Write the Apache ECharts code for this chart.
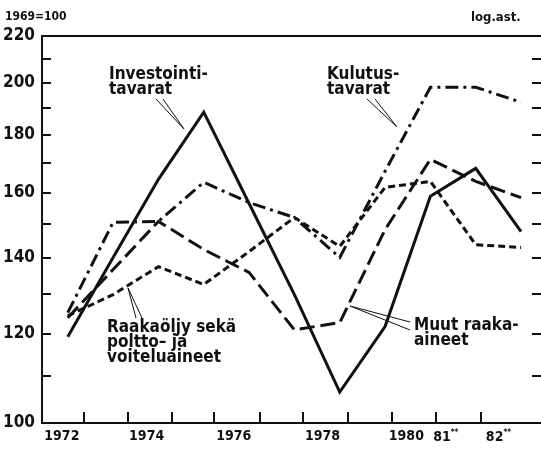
<!DOCTYPE html>
<html>
<head>
<meta charset="utf-8">
<script src="https://cdn.jsdelivr.net/npm/echarts@6/dist/echarts.min.js"></script>
<style>html,body{margin:0;padding:0;background:#fff}#chart{width:541px;height:449px}</style>
</head>
<body>
<div id="chart"></div>
<script>
// 1969=100, log scale
var years = [1972,1973,1974,1975,1976,1977,1978,1979,1980,1981,1982];
var investointi = [119.2,140.1,164.3,188.4,156.4,129.9,106.5,121.7,158.7,168.0,147.7];
var kulutus = [125.2,150.5,150.8,163.3,156.7,152.0,140.1,167.0,198.2,198.2,192.2];
var muut = [123.9,136.7,150.8,142.4,135.9,120.9,122.7,148.3,171.1,163.6,158.3];
var raakaoljy = [124.4,129.9,137.5,132.6,141.8,152.0,143.3,161.6,163.6,143.8,143.0];

var yLabelVals = [100,120,140,160,180,200,220];
var yTickVals = [100,110,120,130,140,150,160,170,180,190,200,210,220];
// tick marks sit between years, labels in the middle of the year slots
var xTickVals = [1972.35,1973.32,1974.30,1975.22,1976.23,1977.18,1978.17,1979.14,1980.11,1981.10];
var xLabelVals = [1971.87,1973.74,1975.66,1977.62,1979.47,1980.34,1981.50];
var xLabels = ['1972','1974','1976','1978','1980','81{s|**}','82{s|**}'];

var FONT = "'DejaVu Sans Condensed','Liberation Sans Narrow',sans-serif";
var INK = '#111';

function pairs(vals){
	var out = [];
	for(var i=0;i<years.length;i++) out.push([years[i], vals[i]]);
	return out;
}
function lineSeries(name, vals, dash){
	return {
		name: name, type: 'line', data: pairs(vals), symbol: 'none',
		lineStyle: {color: INK, width: 3, type: dash, cap: 'butt', join: 'miter'},
		silent: true, animation: false
	};
}

var chart = echarts.init(document.getElementById('chart'));
var option = {
	backgroundColor: '#fff',
	animation: false,
	grid: {left: 41, right: 0, top: 36, bottom: 26, containLabel: false},
	xAxis: [{
		type: 'value', min: 1971.43, max: 1982.44, position: 'bottom',
		axisLine: {show: true, lineStyle: {color: INK, width: 2}},
		axisTick: {show: true, inside: true, length: 11, customValues: xTickVals, lineStyle: {color: INK, width: 2}},
		axisLabel: {
			show: true, customValues: xLabelVals, margin: 6,
			color: INK, fontFamily: FONT, fontWeight: 'bold', fontSize: 14,
			formatter: function(v){
				var best = 0;
				for(var i=1;i<xLabelVals.length;i++){
					if(Math.abs(xLabelVals[i]-v) < Math.abs(xLabelVals[best]-v)) best = i;
				}
				return xLabels[best];
			},
			rich: {s: {fontSize: 8, fontFamily: FONT, fontWeight: 'bold', color: INK, padding: [0,0,8,0]}}
		},
		splitLine: {show: false}
	}, {
		type: 'value', min: 1971.43, max: 1982.44, position: 'top',
		axisLine: {show: true, lineStyle: {color: INK, width: 2}},
		axisTick: {show: false}, axisLabel: {show: false}, splitLine: {show: false}
	}],
	yAxis: [{
		type: 'log', logBase: 10, min: 100, max: 220, position: 'left',
		axisLine: {show: true, lineStyle: {color: INK, width: 2}},
		axisTick: {show: true, inside: true, length: 9, customValues: yTickVals, lineStyle: {color: INK, width: 2}},
		axisLabel: {show: true, customValues: yLabelVals, margin: 7, color: INK, fontFamily: FONT, fontWeight: 'bold', fontSize: 17},
		splitLine: {show: false}
	}, {
		type: 'log', logBase: 10, min: 100, max: 220, position: 'right',
		axisLine: {show: false},
		axisTick: {show: true, inside: true, length: 9, customValues: yTickVals, lineStyle: {color: INK, width: 2}},
		axisLabel: {show: false},
		splitLine: {show: false}
	}],
	graphic: [
		{type: 'text', left: 5, top: 11, style: {text: '1969=100', font: 'bold 12px ' + FONT, fill: INK}},
		{type: 'text', left: 471, top: 11, style: {text: 'log.ast.', font: 'bold 13px ' + FONT, fill: INK}},
		{type: 'text', left: 109, top: 66, style: {text: 'Investointi-\ntavarat', font: 'bold 17px ' + FONT, lineHeight: 15, fill: INK}},
		{type: 'text', left: 327, top: 66, style: {text: 'Kulutus-\ntavarat', font: 'bold 17px ' + FONT, lineHeight: 15, fill: INK}},
		{type: 'text', left: 107, top: 319, style: {text: 'Raakaöljy sekä\npoltto– ja\nvoiteluaineet', font: 'bold 17px ' + FONT, lineHeight: 15, fill: INK}},
		{type: 'text', left: 414, top: 317, style: {text: 'Muut raaka-\naineet', font: 'bold 17px ' + FONT, lineHeight: 15, fill: INK}},
		{type: 'polyline', shape: {points: [[156,99],[184,129],[163,99]]}, style: {stroke: INK, lineWidth: 1, fill: null}},
		{type: 'polyline', shape: {points: [[367,99],[397,127],[375,99]]}, style: {stroke: INK, lineWidth: 1, fill: null}},
		{type: 'polyline', shape: {points: [[136,318],[128,288],[142,318]]}, style: {stroke: INK, lineWidth: 1, fill: null}},
		{type: 'polyline', shape: {points: [[410,322],[350,306],[410,330]]}, style: {stroke: INK, lineWidth: 1, fill: null}}
	],
	series: [
		lineSeries('Investointitavarat', investointi, 'solid'),
		lineSeries('Kulutustavarat', kulutus, [13,5,3,5]),
		lineSeries('Muut raaka-aineet', muut, [15,6]),
		lineSeries('Raakaöljy sekä poltto- ja voiteluaineet', raakaoljy, [7,4])
	]
};
chart.setOption(option);
</script>
</body>
</html>
